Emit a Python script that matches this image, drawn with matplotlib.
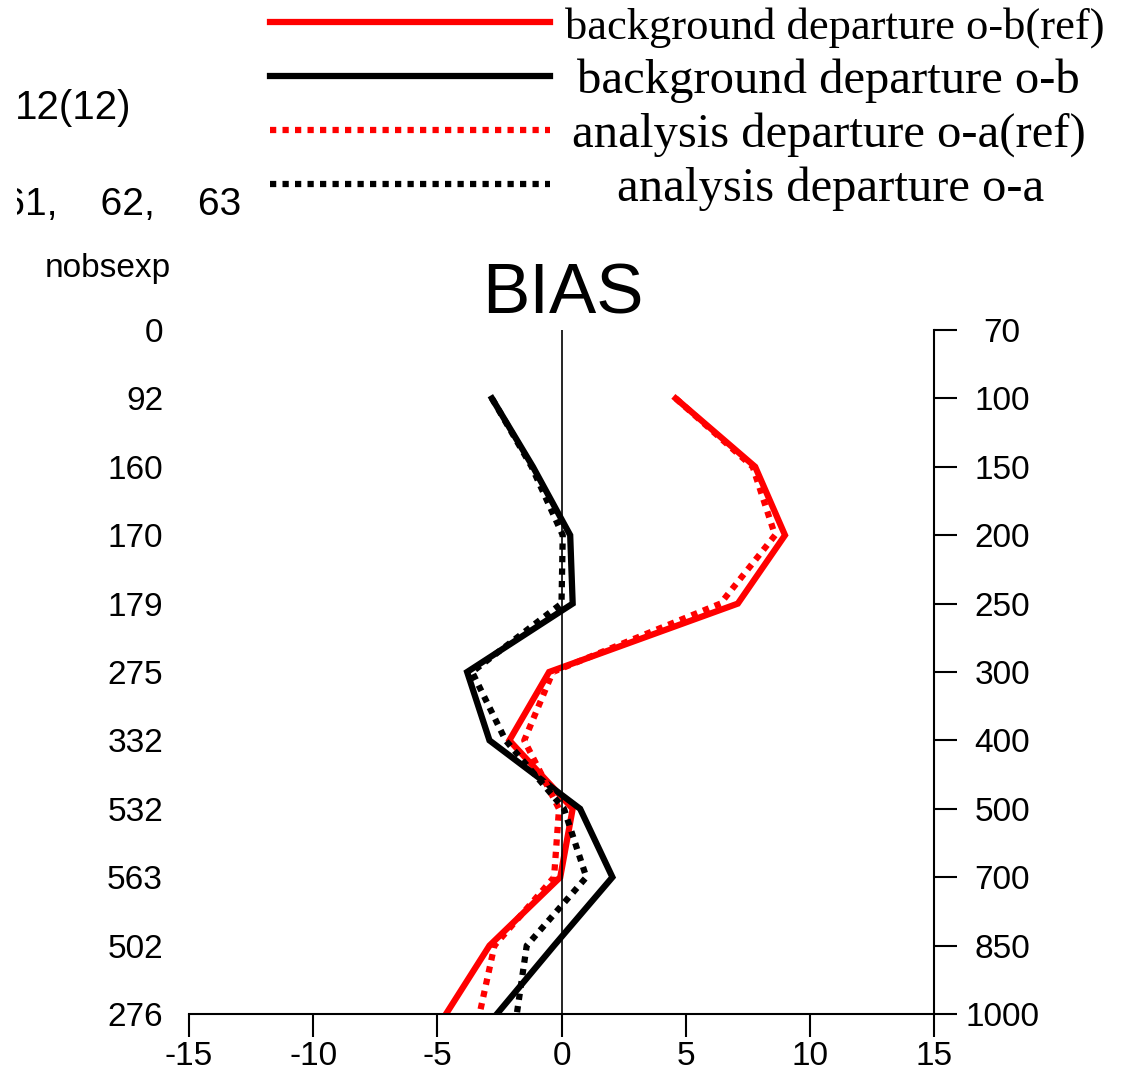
import numpy as np
import matplotlib
matplotlib.use("Agg")
import matplotlib.pyplot as plt
from matplotlib.lines import Line2D

# pressure levels (hPa) and observation counts per level
levels = [70, 100, 150, 200, 250, 300, 400, 500, 700, 850, 1000]
nobsexp = [0, 92, 160, 170, 179, 275, 332, 532, 563, 502, 276]

# bias profiles, from 100 hPa down to 1000 hPa
ob_ref = [4.6, 7.8, 9.0, 7.1, -0.5, -2.1, 0.45, -0.05, -2.9, -4.65]
ob = [-2.8, -1.15, 0.35, 0.45, -3.8, -2.9, 0.75, 2.05, -0.3, -2.6]
oa_ref = [4.6, 7.7, 8.6, 6.4, -0.35, -1.5, -0.1, -0.3, -2.7, -3.3]
oa = [-2.8, -1.2, 0.05, 0.0, -3.6, -2.25, 0.1, 1.0, -1.4, -1.8]

series_labels = ['background departure o-b(ref)', 'background departure o-b',
                 'analysis departure o-a(ref)', 'analysis departure o-a']
channels_text = '60,    61,    62,    63'
counts_text = '12(12)'

W, H = 1121, 1070
plt.rcParams['font.family'] = ['Liberation Sans', 'DejaVu Sans']

fig = plt.figure(figsize=(W / 100, H / 100), dpi=100)
ax = fig.add_axes([189 / W, 56 / H, 745 / W, 684 / H])

y = np.arange(1, len(levels))
lw = 4.5
ax.plot(ob_ref, y, color='red', lw=lw, solid_joinstyle='miter')
ax.plot(ob, y, color='black', lw=lw, solid_joinstyle='miter')
ax.plot(oa_ref, y, color='red', lw=lw, linestyle=(0, (1, 1)))
ax.plot(oa, y, color='black', lw=lw, linestyle=(0, (1, 1)))
ax.axvline(0, color='black', lw=1.2)

ax.set_xlim(-15, 15)
ax.set_ylim(len(levels) - 1, 0)
ax.set_xticks([-15, -10, -5, 0, 5, 10, 15])
ax.set_xticklabels(['-15', '-10', '-5', '0', '5', '10', '15'])
ax.set_yticks(range(len(levels)))
ax.set_yticklabels([str(n) for n in nobsexp])

for side in ['left', 'top']:
    ax.spines[side].set_visible(False)
for side in ['right', 'bottom']:
    ax.spines[side].set_linewidth(1.5)

ax.tick_params(axis='x', direction='out', length=16.5, width=1.5, pad=3, labelsize=24)
ax.tick_params(axis='y', left=False, right=True, labelleft=True, labelright=False,
               direction='out', length=16.5, width=1.5, labelsize=24, pad=2.2)

# pressure labels on the right, centred a little beyond the ticks
ax2 = ax.secondary_yaxis('right')
ax2.set_yticks(range(len(levels)))
ax2.set_yticklabels([str(lv) for lv in levels])
ax2.tick_params(length=0, pad=49, labelsize=24)
for lab in ax2.get_yticklabels():
    lab.set_horizontalalignment('center')
ax2.spines['right'].set_visible(False)

fig.text(563 / W, 1 - 313 / H, 'BIAS', fontsize=51, ha='center', va='baseline')
fig.text(108 / W, 1 - 268 / H, 'nobsexp', fontsize=24, ha='center', va='center')

# header text, clipped at its left edge
clip_ax = fig.add_axes([17 / W, 1 - 245 / H, 400 / W, 185 / H])
clip_ax.axis('off')
for txt, xpos, ypos, ha, fs in [(counts_text, 15, 108, 'left', 29),
                                (channels_text, 241, 205, 'right', 28)]:
    t = fig.text(xpos / W, 1 - ypos / H, txt, fontsize=fs, ha=ha, va='center')
    t.set_clip_box(clip_ax.bbox)
    t.set_clip_on(True)

# legend drawn as line samples with centred captions
styles = [('red', '-'), ('black', '-'), ('red', (0, (1, 1))), ('black', (0, (1, 1)))]
line_y = [22, 76, 130, 184]
text_y = [28, 81, 135, 189]
text_x = [835, 828, 829, 831]
text_fs = [32, 35, 35, 35]
for (c, ls), ly, tx, ty, fs, lab in zip(styles, line_y, text_x, text_y, text_fs, series_labels):
    fig.add_artist(Line2D([270 / W, 550 / W], [1 - ly / H, 1 - ly / H],
                          color=c, lw=lw, linestyle=ls, transform=fig.transFigure))
    fig.text(tx / W, 1 - ty / H, lab, fontsize=fs, ha='center', va='center',
             family=['Liberation Serif', 'DejaVu Serif'])

fig.savefig('out.png', dpi=100)
